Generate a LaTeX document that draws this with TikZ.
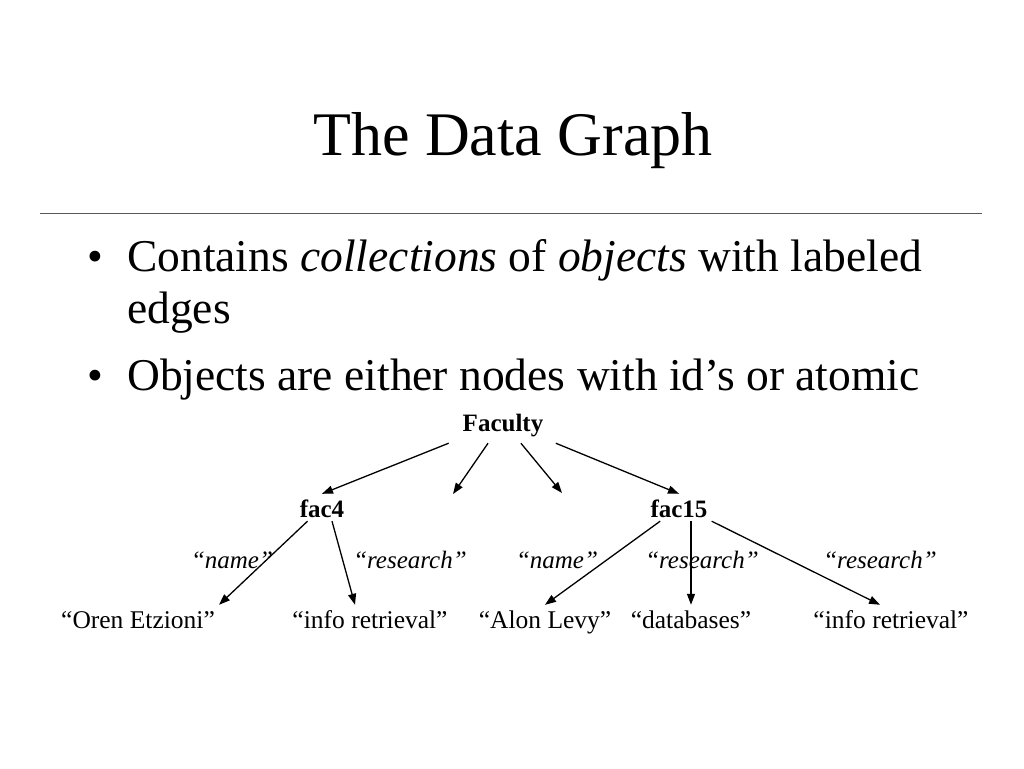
\documentclass[tikz,border=0pt]{standalone}
\usepackage{fontspec}
\setmainfont{Liberation Serif}
\usetikzlibrary{arrows.meta}

\tikzset{
  obj/.style={font=\fontsize{25}{30}\selectfont\bfseries, inner sep=4pt, text height=19pt, text depth=0pt, anchor=base},
  atom/.style={font=\fontsize{25.5}{30}\selectfont, inner sep=4pt, text height=19pt, text depth=6pt, anchor=base},
  lbl/.style={font=\fontsize{25}{30}\selectfont\itshape, inner sep=0pt, anchor=base},
  edge/.style={line width=1.3pt, -{Triangle[length=11pt,width=8pt]}},
  bodytext/.style={font=\fontsize{45.5}{52}\selectfont, inner sep=0pt, anchor=base west}
}

\begin{document}
\begin{tikzpicture}[x=1pt, y=-1pt]
    \useasboundingbox (0,0) rectangle (1024,768);

    % Title
    \node[font=\fontsize{62}{70}\selectfont, inner sep=0pt, anchor=base] (title) at (513,155) {The Data Graph};
    \draw[black!65, line width=1pt] (40,213) -- (982,213);

    % Bullets
    \foreach \y in {271,390} {
        \node[font=\fontsize{45}{52}\selectfont, inner sep=0pt, anchor=base] (dot\y) at (95.5,\y) {•};
    }
    \node[bodytext] (line1) at (127,271) {Contains \textit{collections} of \textit{objects} with labeled};
    \node[bodytext] (line2) at (127,323) {edges};
    \node[bodytext] (line3) at (127,390) {Objects are either nodes with id’s or atomic};

    % Objects
    \node[obj, inner xsep=14pt, inner ysep=12pt] (faculty) at (503,431) {Faculty};
    \node[obj] (fac4) at (322,517) {fac4};
    \node[obj] (fac15) at (679,517) {fac15};
    \coordinate (stubL) at (453,494);
    \coordinate (stubR) at (562,493);

    % Atomic values
    \node[atom] (oren) at (138,628) {“Oren Etzioni”};
    \node[atom] (infoL) at (370,628) {“info retrieval”};
    \node[atom] (alon) at (545,628) {“Alon Levy”};
    \node[atom] (dbs) at (691,628) {“databases”};
    \node[atom] (infoR) at (891,628) {“info retrieval”};

    % Edge labels
    \foreach \x/\name in {232/name, 410/research, 557/name, 702/research, 880/research} {
        \node[lbl] (lbl\x) at (\x,568) {“\name”};
    }

    % Edges
    \draw[edge] (faculty) -- (fac4.north);
    \draw[edge] (faculty) -- (stubL);
    \draw[edge] (faculty) -- (stubR);
    \draw[edge] (faculty) -- (fac15.north);
    \draw[edge] (fac4) -- (oren.north east);
    \draw[edge] ([xshift=10pt]fac4.south) -- ([xshift=-15pt]infoL.north);
    \draw[edge] (fac15) -- (alon.north);
    \draw[edge] (fac15.south -| dbs.north) -- (dbs.north);
    \draw[edge] (fac15.south east) -- ([xshift=-11pt]infoR.north);
\end{tikzpicture}
\end{document}
